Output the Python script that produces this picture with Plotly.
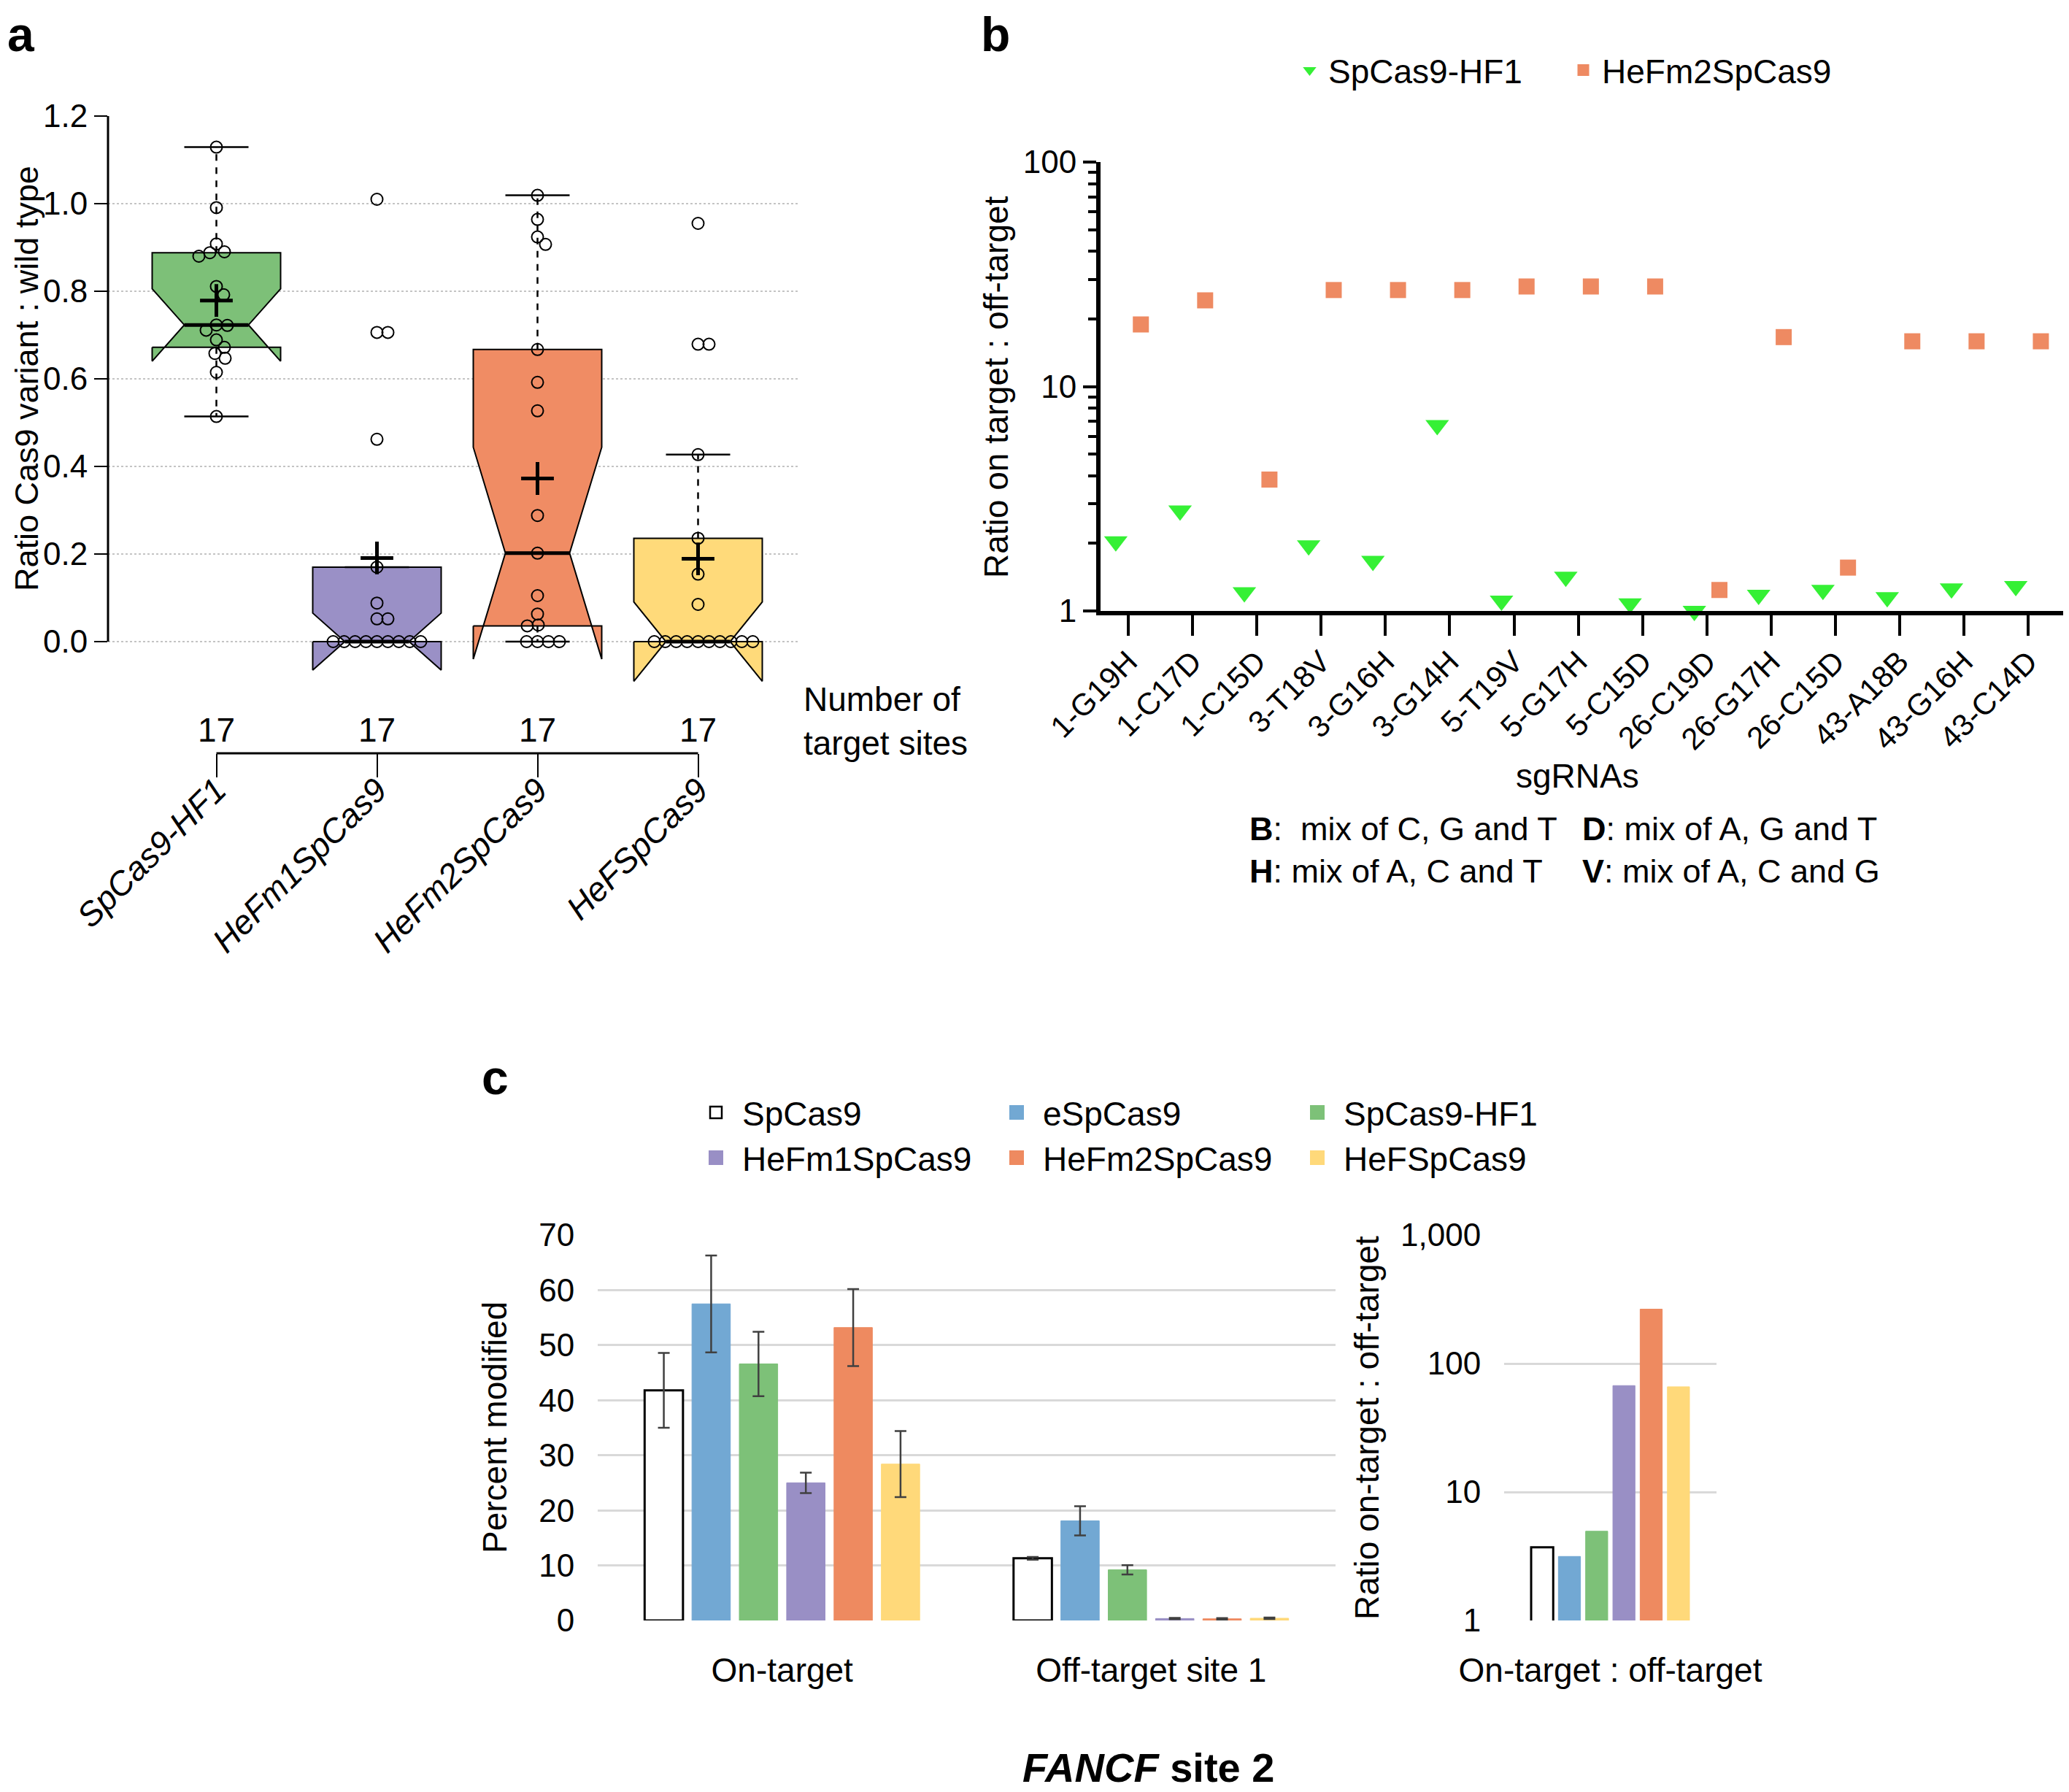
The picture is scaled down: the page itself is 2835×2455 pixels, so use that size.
import numpy as np
import plotly.graph_objects as go

W, H = 2835, 2455          # browser window
OFF = 8                    # default page margin around the figure div
WF, HF = W - OFF, H - OFF  # figure size so it ends at the window edge
FONT = "Liberation Sans, Arial, Helvetica, sans-serif"

# ---------------- Panel a data ----------------
variants_a = ["SpCas9-HF1", "HeFm1SpCas9", "HeFm2SpCas9", "HeFSpCas9"]
ratio_hf1 = [1.129, 0.991, 0.908, 0.890, 0.880, 0.888, 0.811, 0.792, 0.723,
             0.722, 0.711, 0.689, 0.672, 0.658, 0.647, 0.615, 0.514]
ratio_hefm1 = [1.010, 0.706, 0.706, 0.462, 0.170, 0.088, 0.052, 0.052,
               0, 0, 0, 0, 0, 0, 0, 0, 0]
ratio_hefm2 = [1.019, 0.964, 0.924, 0.907, 0.667, 0.592, 0.527, 0.288, 0.202,
               0.105, 0.063, 0.038, 0.036, 0, 0, 0, 0]
ratio_hef = [0.955, 0.679, 0.679, 0.427, 0.236, 0.154, 0.085,
             0, 0, 0, 0, 0, 0, 0, 0, 0, 0]
n_sites = [17, 17, 17, 17]
colors_a = ["#7DC078", "#9A90C6", "#F08C64", "#FFDA7A"]

# ---------------- Panel b data ----------------
sgrnas = ["1-G19H", "1-C17D", "1-C15D", "3-T18V", "3-G16H", "3-G14H", "5-T19V",
          "5-G17H", "5-C15D", "26-C19D", "26-G17H", "26-C15D", "43-A18B",
          "43-G16H", "43-C14D"]
hf1_on_off = [2.04, 2.80, 1.21, 1.96, 1.67, 6.72, 1.11, 1.42, 1.08, 1.00,
              1.18, 1.24, 1.15, 1.26, 1.29]
hefm2_on_off = [18.9, 24.2, 3.85, 26.9, 26.9, 26.9, 27.9, 27.9, 27.9, 1.24,
                16.6, 1.56, 15.9, 15.9, 15.9]

# ---------------- Panel c data ----------------
variants_c = ["SpCas9", "eSpCas9", "SpCas9-HF1", "HeFm1SpCas9", "HeFm2SpCas9", "HeFSpCas9"]
sites_c = ["On-target", "Off-target site 1"]
on_target = [41.8, 57.5, 46.6, 25.0, 53.2, 28.4]
on_target_err = [6.8, 8.8, 5.85, 1.85, 7.0, 6.0]
off_target = [11.3, 18.1, 9.2, 0.35, 0.3, 0.4]
off_target_err = [0.25, 2.65, 0.85, 0.12, 0.12, 0.12]
ratio_on_off = [3.71, 3.15, 4.95, 67.3, 265.0, 65.9]
ratio_label = ["On-target : off-target"]
colors_c = ["#FFFFFF", "#72A8D3", "#7DC178", "#998FC5", "#EE8A60", "#FFD97A"]

fig = go.Figure()


# ---------------- helpers ----------------
def fivenum(v):
    x = sorted(v)
    n = len(x)
    n4 = np.floor((n + 3) / 2) / 2
    d = [1, n4, (n + 1) / 2, n + 1 - n4, n]
    return [0.5 * (x[int(np.floor(di)) - 1] + x[int(np.ceil(di)) - 1]) for di in d]


def swarm(vals, px_x=220.0, px_y=600.0, dia=15.0):
    order = sorted(range(len(vals)), key=lambda k: -vals[k])
    placed = []
    offs = [0.0] * len(vals)
    cands = [0.0]
    for s in range(1, 300):
        cands += [float(s), float(-s)]
    for k in order:
        yp = vals[k] * px_y
        chosen = 0.0
        for c in cands:
            if all((c - a) ** 2 + (yp - b) ** 2 >= dia * dia for a, b in placed):
                chosen = c
                break
        placed.append((chosen, yp))
        offs[k] = chosen / px_x
    return offs


# ---------------- Panel a traces ----------------
groups = [ratio_hf1, ratio_hefm1, ratio_hefm2, ratio_hef]
HW, NW = 0.40, 0.20
for i, vals in enumerate(groups):
    xc = i + 1
    mn, q1, med, q3, mx = fivenum(vals)
    iqr = q3 - q1
    nlo = med - 1.58 * iqr / np.sqrt(len(vals))
    nhi = med + 1.58 * iqr / np.sqrt(len(vals))
    wlo = min(v for v in vals if v >= q1 - 1.5 * iqr)
    whi = max(v for v in vals if v <= q3 + 1.5 * iqr)
    px = [xc - HW, xc - HW, xc - NW, xc - HW, xc - HW, xc + HW, xc + HW, xc + NW,
          xc + HW, xc + HW, xc - HW]
    py = [q1, nlo, med, nhi, q3, q3, nhi, med, nlo, q1, q1]
    fig.add_trace(go.Scatter(x=px, y=py, mode="lines", fill="toself",
                             fillcolor=colors_a[i], line=dict(color="black", width=2),
                             showlegend=False, hoverinfo="skip", xaxis="x", yaxis="y"))
    wx, wy = [], []
    if whi > q3:
        wx += [xc, xc, None]
        wy += [q3, whi, None]
    if wlo < q1:
        wx += [xc, xc, None]
        wy += [q1, wlo, None]
    if wx:
        fig.add_trace(go.Scatter(x=wx, y=wy, mode="lines",
                                 line=dict(color="black", width=2.5, dash="dash"),
                                 showlegend=False, hoverinfo="skip", xaxis="x", yaxis="y"))
    fig.add_trace(go.Scatter(x=[xc - NW, xc + NW, None, xc - NW, xc + NW],
                             y=[whi, whi, None, wlo, wlo], mode="lines",
                             line=dict(color="black", width=2.5),
                             showlegend=False, hoverinfo="skip", xaxis="x", yaxis="y"))
    fig.add_trace(go.Scatter(x=[xc - NW, xc + NW], y=[med, med], mode="lines",
                             line=dict(color="black", width=5),
                             showlegend=False, hoverinfo="skip", xaxis="x", yaxis="y"))
    offs = swarm(vals)
    fig.add_trace(go.Scatter(x=[xc + o for o in offs], y=vals, mode="markers",
                             marker=dict(symbol="circle-open", size=16,
                                         color="black", line=dict(width=2, color="black")),
                             cliponaxis=False, showlegend=False, hoverinfo="skip",
                             xaxis="x", yaxis="y"))
    fig.add_trace(go.Scatter(x=[xc], y=[float(np.mean(vals))], mode="markers",
                             marker=dict(symbol="cross-thin", size=32,
                                         line=dict(width=5, color="black")),
                             showlegend=False, hoverinfo="skip", xaxis="x", yaxis="y"))

# ---------------- Panel b traces ----------------
DODGE = 0.195
idx_b = list(range(len(sgrnas)))
fig.add_trace(go.Scatter(x=[i - DODGE for i in idx_b], y=hf1_on_off, mode="markers",
                         name="SpCas9-HF1",
                         marker=dict(symbol="triangle-down", size=28, color="#35F035",
                                     line=dict(width=0, color="#35F035")),
                         cliponaxis=False, xaxis="x2", yaxis="y2", legend="legend"))
fig.add_trace(go.Scatter(x=[i + DODGE for i in idx_b], y=hefm2_on_off, mode="markers",
                         name="HeFm2SpCas9",
                         marker=dict(symbol="square", size=22, color="#EE8A62",
                                     line=dict(width=0, color="#EE8A62")),
                         cliponaxis=False, xaxis="x2", yaxis="y2", legend="legend"))

# ---------------- Panel c traces ----------------
for i, name in enumerate(variants_c):
    line = dict(color="black", width=3) if i == 0 else dict(color=colors_c[i], width=1)
    fig.add_trace(go.Bar(x=sites_c, y=[on_target[i], off_target[i]], name=name,
                         marker=dict(color=colors_c[i], line=line),
                         error_y=dict(type="data", array=[on_target_err[i], off_target_err[i]],
                                      color="#404040", thickness=2.5, width=8),
                         showlegend=False, xaxis="x3", yaxis="y3"))
for i, name in enumerate(variants_c):
    line = dict(color="black", width=3) if i == 0 else dict(color=colors_c[i], width=1)
    fig.add_trace(go.Bar(x=ratio_label, y=[ratio_on_off[i]], name=name,
                         marker=dict(color=colors_c[i], line=line),
                         showlegend=False, xaxis="x4", yaxis="y4"))
for i, name in enumerate(variants_c):
    lc = "black" if i == 0 else colors_c[i]
    fig.add_trace(go.Scatter(x=[None], y=[None], mode="markers", name=name,
                             marker=dict(symbol="square", size=16, color=colors_c[i],
                                         line=dict(color=lc, width=2.5 if i == 0 else 4)),
                             xaxis="x3", yaxis="y3",
                             legend="legend2" if i < 3 else "legend3"))


# ---------------- layout (positions given in window pixels) ----------------
def px2x(p):
    return (p - OFF) / WF


def px2y(p):
    return 1 - (p - OFF) / HF


def ann(text, x, y, size=46, xanchor="center", yanchor="middle", angle=0, align="center"):
    return dict(text=text, x=px2x(x), y=px2y(y), xref="paper", yref="paper",
                showarrow=False, xanchor=xanchor, yanchor=yanchor, textangle=angle,
                align=align, font=dict(size=size, family=FONT, color="black"))


annotations = [
    ann("<b>a</b>", 8, 8, size=66, xanchor="left", yanchor="top"),
    ann("<b>b</b>", 1342, 8, size=66, xanchor="left", yanchor="top"),
    ann("<b>c</b>", 658, 1476, size=66, xanchor="left"),
    dict(text="Ratio Cas9 variant : wild type", x=px2x(36), y=0.6, xref="paper", yref="y",
         showarrow=False, textangle=-90, xanchor="center", yanchor="middle",
         font=dict(size=45, family=FONT, color="black")),
    ann("Number of<br>target sites", 1099, 988, xanchor="left", align="left"),
    ann("Ratio on target : off-target", 1365, 530, angle=-90),
    ann("sgRNAs", 2161, 1063),
    ann("<b>B</b>:&nbsp; mix of C, G and T", 1710, 1135, size=45, xanchor="left"),
    ann("<b>D</b>: mix of A, G and T", 2166, 1135, size=45, xanchor="left"),
    ann("<b>H</b>: mix of A, C and T", 1710, 1193, size=45, xanchor="left"),
    ann("<b>V</b>: mix of A, C and G", 2166, 1193, size=45, xanchor="left"),
    ann("Percent modified", 678, 1956, angle=-90),
    ann("Ratio on-target : off-target", 1873, 1956, angle=-90),
    ann("<b><i>FANCF</i> site 2</b>", 1573, 2421, size=56),
]
for i, n in enumerate(n_sites):
    annotations.append(dict(text=str(n), x=i + 1, y=px2y(1000), xref="x", yref="paper",
                            showarrow=False, xanchor="center", yanchor="middle",
                            font=dict(size=46, family=FONT, color="black")))

shapes = [
    dict(type="line", xref="x domain", yref="y", x0=0, x1=0, y0=0, y1=1.2,
         line=dict(color="black", width=3)),
    dict(type="line", xref="x", yref="paper", x0=1, x1=4, y0=px2y(1032), y1=px2y(1032),
         line=dict(color="black", width=3)),
]

axis_common = dict(zeroline=False, showgrid=False, tickcolor="black", automargin=False,
                   tickfont=dict(size=44, family=FONT, color="black"))

minor_vals = [v * m for m in (1, 10) for v in range(2, 10)]

fig.update_layout(
    template="none",
    width=WF, height=HF, margin=dict(l=0, r=0, t=0, b=0, autoexpand=False),
    paper_bgcolor="white", plot_bgcolor="rgba(0,0,0,0)",
    font=dict(family=FONT, size=46, color="black"),
    barmode="group", bargap=0.23, bargroupgap=0.19,
    annotations=annotations, shapes=shapes,
    # panel a
    xaxis=dict(axis_common, domain=[px2x(148), px2x(1094)], range=[0.325, 4.625],
               anchor="free", position=px2y(1032), tickmode="array",
               tickvals=[1, 2, 3, 4], ticktext=[f"<i>{v}</i>" for v in variants_a],
               tickangle=-45, ticks="outside", ticklen=32, tickwidth=2, showline=False,
               ticklabelstandoff=-28,
               tickfont=dict(size=46, family=FONT, color="black")),
    yaxis=dict(axis_common, domain=[px2y(951), px2y(159)], range=[-0.12, 1.2],
               anchor="x", tickmode="array", tickvals=[0, 0.2, 0.4, 0.6, 0.8, 1.0, 1.2],
               ticktext=["0.0", "0.2", "0.4", "0.6", "0.8", "1.0", "1.2"],
               ticks="outside", ticklen=18, tickwidth=2, showline=False,
               showgrid=True, gridcolor="#C4C4C4", griddash="dot", gridwidth=2,
               tickfont=dict(size=44, family=FONT, color="black")),
    # panel b
    xaxis2=dict(axis_common, domain=[px2x(1508), min(1.0, px2x(2833))], range=[-0.432, 14.61],
                anchor="y2", tickmode="array", tickvals=idx_b, ticktext=sgrnas,
                tickangle=-45, ticks="outside", ticklen=28, tickwidth=4,
                ticklabelstandoff=-6,
                showline=True, linecolor="black", linewidth=6,
                tickfont=dict(size=42, family=FONT, color="black")),
    yaxis2=dict(axis_common, domain=[px2y(837), px2y(222)], type="log", range=[0, 2],
                anchor="x2", tickmode="array", tickvals=[1, 10, 100],
                ticktext=["1", "10", "100"], ticks="outside", ticklen=18, tickwidth=4,
                showline=True, linecolor="black", linewidth=6,
                minor=dict(tickmode="array", tickvals=minor_vals, ticks="outside",
                           ticklen=11, tickwidth=4, tickcolor="black", showgrid=False)),
    # panel c left
    xaxis3=dict(axis_common, domain=[px2x(819), px2x(1830)], anchor="y3",
                ticks="outside", ticklen=28, tickcolor="rgba(0,0,0,0)",
                showline=False, tickfont=dict(size=46, family=FONT, color="black")),
    yaxis3=dict(axis_common, domain=[px2y(2220), px2y(1692)], range=[0, 70],
                anchor="x3", tickmode="linear", tick0=0, dtick=10,
                ticks="outside", ticklen=22, tickcolor="rgba(0,0,0,0)",
                showgrid=True, gridcolor="#D9D9D9", gridwidth=3, showline=False),
    # panel c right
    xaxis4=dict(axis_common, domain=[px2x(2061), px2x(2352)], anchor="y4",
                ticks="outside", ticklen=28, tickcolor="rgba(0,0,0,0)",
                showline=False, tickfont=dict(size=46, family=FONT, color="black")),
    yaxis4=dict(axis_common, domain=[px2y(2220), px2y(1692)], type="log", range=[0, 3],
                anchor="x4", tickmode="array", tickvals=[1, 10, 100, 1000],
                ticktext=["1", "10", "100", "1,000"],
                ticks="outside", ticklen=22, tickcolor="rgba(0,0,0,0)",
                showgrid=True, gridcolor="#D9D9D9", gridwidth=3, showline=False),
    legend=dict(orientation="h", x=px2x(1769), y=px2y(96), xanchor="left", yanchor="middle",
                itemwidth=41, entrywidth=319, entrywidthmode="pixels",
                bgcolor="rgba(0,0,0,0)", font=dict(size=46, family=FONT, color="black")),
    legend2=dict(orientation="h", x=px2x(945), y=px2y(1524), xanchor="left", yanchor="middle",
                 itemwidth=62, entrywidth=335, entrywidthmode="pixels",
                 bgcolor="rgba(0,0,0,0)", font=dict(size=46, family=FONT, color="black")),
    legend3=dict(orientation="h", x=px2x(945), y=px2y(1586), xanchor="left", yanchor="middle",
                 itemwidth=62, entrywidth=335, entrywidthmode="pixels",
                 bgcolor="rgba(0,0,0,0)", font=dict(size=46, family=FONT, color="black")),
)

fig.write_html("out.html")
